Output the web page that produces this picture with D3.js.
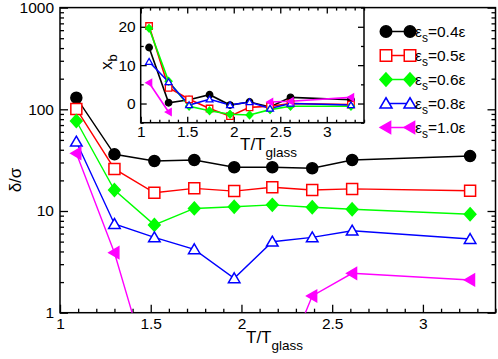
<!DOCTYPE html>
<html><head><meta charset="utf-8">
<script src="https://cdn.jsdelivr.net/npm/d3@7"></script>
<style>body{margin:0;background:#fff} text{font-family:"Liberation Sans",Arial,sans-serif;fill:#000}</style>
</head><body><svg id="c" width="498" height="359"></svg>
<script>
// ---- data ----
const temps = [1.09,1.30,1.52,1.74,1.96,2.17,2.39,2.61,3.26];
const epsLabels = ["0.4","0.5","0.6","0.8","1.0"];
const colors = ["#000000","#ff0000","#00ff00","#0000ff","#ff00ff"];
const delta04 = [130,36.1,31.0,31.7,26.9,26.9,26.3,31.7,34.7];
const delta05 = [100.7,25.9,15.1,16.7,15.7,17.1,16.1,16.5,15.8];
const delta06 = [76.7,16.1,7.3,10.6,11.0,11.5,10.9,10.4,9.3];
const delta08 = [48.0,7.45,5.5,4.2,2.18,4.99,5.5,6.4,5.3];
const delta10 = [36.9,3.89,0.18,0.12,0.10,0.16,1.46,2.44,2.1];
const xb04 = [14.6,0.2,1.0,2.3,-0.4,0.4,-0.9,1.6,1.0];
const xb05 = [20.2,4.1,1.1,-1.3,-3.3,-1.0,-0.7,0.0,-0.3];
const xb06 = [19.6,5.8,-0.7,-1.9,-2.8,-3.0,-1.6,-0.7,-0.7];
const xb08 = [10.9,5.6,-0.4,1.1,-0.4,0.4,-1.3,0.0,-0.4];
const xb10 = [5.4,-2.2,null,null,null,null,0.4,0.6,1.6];
const mainTicksX = [1,1.5,2,2.5,3];
const mainTicksY = [1,10,100,1000];
const insetTicksY = [0,10,20];

const deltaSeries = [delta04,delta05,delta06,delta08,delta10];
const xbSeries = [xb04,xb05,xb06,xb08,xb10];
const shapes = ["circle","square","diamond","triangle","triangleLeft"];
const filled = [true,false,true,false,true];

const svg = d3.select("#c");
const mL=60,mR=495.5,mT=7.6,mB=312.7;
const x = d3.scaleLinear().domain([1,3.4]).range([mL,mR]);
const y = d3.scaleLog().domain([1,1000]).range([mB,mT]);
const iL=140.7,iR=364,iT=7.6,iB=122.7;
const ix = d3.scaleLinear().domain([1,3.4]).range([iL,iR]);
const iy = d3.scaleLinear().domain([-5,25]).range([iB,iT]);

function markerPath(shape, s){
  const h=s/2;
  switch(shape){
    case "circle": return `M${h},0A${h},${h} 0 1,1 ${-h},0A${h},${h} 0 1,1 ${h},0Z`;
    case "square": return `M${-h},${-h}H${h}V${h}H${-h}Z`;
    case "diamond": return `M0,${-h*1.15}L${h*1.05},0L0,${h*1.15}L${-h*1.05},0Z`;
    case "triangle": return `M0,${-h}L${h*1.05},${h*0.8}L${-h*1.05},${h*0.8}Z`;
    case "triangleLeft": return `M${-h},0L${h*0.8},${-h*1.05}L${h*0.8},${h*1.05}Z`;
  }
}
function drawMarker(g, shape, s, c, fill, cx, cy, sw){
  g.append("path").attr("d", markerPath(shape,s)).attr("transform",`translate(${cx},${cy})`)
   .attr("fill", fill? c : "#fff").attr("stroke", c).attr("stroke-width", sw);
}

const fontTick = 15.5;
function styleAxis(g, labels){
  g.selectAll(".domain").remove();
  g.selectAll(".tick line").attr("stroke","#000").attr("stroke-width",1.3);
  g.selectAll(".tick text").attr("font-size",fontTick).attr("font-family","Liberation Sans, Arial, sans-serif").attr("fill","#000");
  if(!labels) g.selectAll(".tick text").remove();
}
const noF = ()=>"";

// ---- main plot ----
svg.append("defs").append("clipPath").attr("id","clipMain").append("rect")
  .attr("x",mL).attr("y",mT).attr("width",mR-mL).attr("height",mB-mT);

const minorX = d3.range(10,35).map(d=>d/10).filter(d=>!mainTicksX.some(m=>Math.abs(m-d)<1e-9));
const minorY = [];
[1,10,100].forEach(dec=>{for(let k=2;k<=9;k++) minorY.push(dec*k);});

let g;
g = svg.append("g").attr("transform",`translate(0,${mB})`).call(d3.axisBottom(x).tickValues(mainTicksX).tickSize(-8).tickPadding(5).tickFormat(d3.format(""))); styleAxis(g,true);
g = svg.append("g").attr("transform",`translate(0,${mB})`).call(d3.axisBottom(x).tickValues(minorX).tickSize(-4).tickFormat(noF)); styleAxis(g,false);
g = svg.append("g").attr("transform",`translate(${mL},0)`).call(d3.axisLeft(y).tickValues(mainTicksY).tickSize(-8).tickPadding(6).tickFormat(d3.format("d"))); styleAxis(g,true);
g = svg.append("g").attr("transform",`translate(${mL},0)`).call(d3.axisLeft(y).tickValues(minorY).tickSize(-4).tickFormat(noF)); styleAxis(g,false);
g = svg.append("g").attr("transform",`translate(${mR},0)`).call(d3.axisRight(y).tickValues(mainTicksY).tickSize(-8).tickFormat(noF)); styleAxis(g,false);
g = svg.append("g").attr("transform",`translate(${mR},0)`).call(d3.axisRight(y).tickValues(minorY).tickSize(-4).tickFormat(noF)); styleAxis(g,false);
svg.append("rect").attr("x",mL).attr("y",mT).attr("width",mR-mL).attr("height",mB-mT)
  .attr("fill","none").attr("stroke","#000").attr("stroke-width",1.5);

const mainLine = d3.line().x((d,i)=>x(temps[i])).y(d=>y(d));
const mg = svg.append("g");
deltaSeries.forEach((s,k)=>{
  mg.append("path").attr("d",mainLine(s)).attr("fill","none").attr("stroke",colors[k])
    .attr("stroke-width",1.4).attr("clip-path","url(#clipMain)");
});
deltaSeries.forEach((s,k)=>{
  s.forEach((v,i)=>{ if(v>=1) drawMarker(mg,shapes[k],11,colors[k],filled[k],x(temps[i]),y(v),1.5); });
});

// axis titles
svg.append("text").attr("transform","translate(21,180) rotate(-90)").attr("text-anchor","middle")
  .attr("font-size",17).text("δ/σ");
const xt = svg.append("text").attr("x",246).attr("y",343).attr("font-size",17);
xt.append("tspan").text("T/T");
xt.append("tspan").attr("dy",7).attr("font-size",13.5).text("glass");

// ---- inset ----
svg.append("rect").attr("x",iL).attr("y",iT).attr("width",iR-iL).attr("height",iB-iT).attr("fill","#fff");
const iMinorX = d3.range(10,35).map(d=>d/10).filter(d=>!mainTicksX.some(m=>Math.abs(m-d)<1e-9));
const iMinorY = [-5,5,15,25];
g = svg.append("g").attr("transform",`translate(0,${iB})`).call(d3.axisBottom(ix).tickValues(mainTicksX).tickSize(-6).tickPadding(3).tickFormat(d3.format(""))); styleAxis(g,true);
g = svg.append("g").attr("transform",`translate(0,${iB})`).call(d3.axisBottom(ix).tickValues(iMinorX).tickSize(-3).tickFormat(noF)); styleAxis(g,false);
g = svg.append("g").attr("transform",`translate(0,${iT})`).call(d3.axisTop(ix).tickValues(mainTicksX).tickSize(-6).tickFormat(noF)); styleAxis(g,false);
g = svg.append("g").attr("transform",`translate(0,${iT})`).call(d3.axisTop(ix).tickValues(iMinorX).tickSize(-3).tickFormat(noF)); styleAxis(g,false);
g = svg.append("g").attr("transform",`translate(${iL},0)`).call(d3.axisLeft(iy).tickValues(insetTicksY).tickSize(-6).tickPadding(5).tickFormat(d3.format("d"))); styleAxis(g,true);
g = svg.append("g").attr("transform",`translate(${iL},0)`).call(d3.axisLeft(iy).tickValues(iMinorY).tickSize(-3).tickFormat(noF)); styleAxis(g,false);
g = svg.append("g").attr("transform",`translate(${iR},0)`).call(d3.axisRight(iy).tickValues(insetTicksY).tickSize(-6).tickFormat(noF)); styleAxis(g,false);
g = svg.append("g").attr("transform",`translate(${iR},0)`).call(d3.axisRight(iy).tickValues(iMinorY).tickSize(-3).tickFormat(noF)); styleAxis(g,false);
svg.append("rect").attr("x",iL).attr("y",iT).attr("width",iR-iL).attr("height",iB-iT)
  .attr("fill","none").attr("stroke","#000").attr("stroke-width",1.5);

const insetLine = d3.line().defined(d=>d!==null).x((d,i)=>ix(temps[i])).y(d=>iy(d));
const ig = svg.append("g");
xbSeries.forEach((s,k)=>{
  ig.append("path").attr("d",insetLine(s)).attr("fill","none").attr("stroke",colors[k]).attr("stroke-width",1.6);
});
xbSeries.forEach((s,k)=>{
  s.forEach((v,i)=>{ if(v!==null) drawMarker(ig,shapes[k],6.5,colors[k],filled[k],ix(temps[i]),iy(v),1.3); });
});
svg.append("text").attr("transform","translate(112,62) rotate(-90)").attr("text-anchor","middle")
  .attr("font-size",17).call(t=>{t.append("tspan").text("x");t.append("tspan").attr("dy",5).attr("font-size",13).text("b");});
const it = svg.append("text").attr("x",240).attr("y",150).attr("font-size",17);
it.append("tspan").text("T/T");
it.append("tspan").attr("dy",7).attr("font-size",13.5).text("glass");

// ---- legend ----
const lg = svg.append("g");
epsLabels.forEach((lab,k)=>{
  const yy = 31.5 + k*24;
  lg.append("line").attr("x1",386).attr("x2",410).attr("y1",yy).attr("y2",yy).attr("stroke",colors[k]).attr("stroke-width",1.5);
  drawMarker(lg,shapes[k],11.5,colors[k],filled[k],386,yy,1.5);
  drawMarker(lg,shapes[k],11.5,colors[k],filled[k],410,yy,1.5);
  const t = lg.append("text").attr("x",415).attr("y",yy+5.5).attr("font-size",15.5);
  t.append("tspan").text("ε");
  t.append("tspan").attr("dy",5).attr("font-size",12).text("s");
  t.append("tspan").attr("dy",-5).text("="+lab+"ε");
});
</script></body></html>
